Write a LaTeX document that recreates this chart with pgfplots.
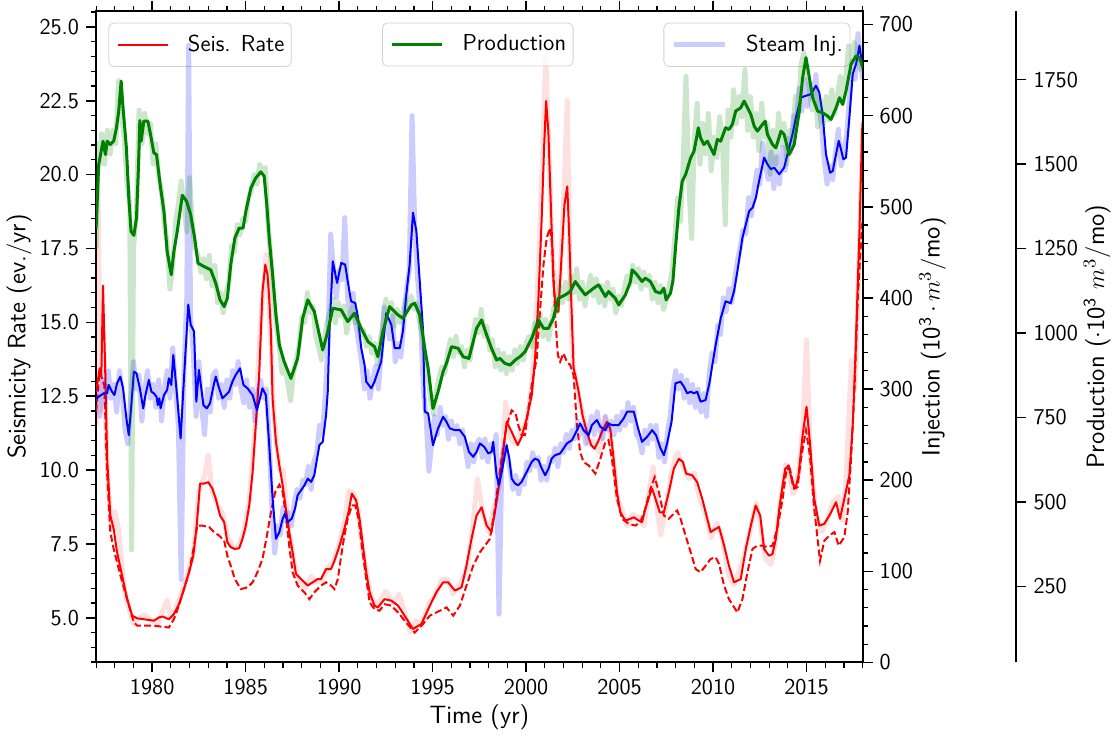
\documentclass[border=0pt]{standalone}
\usepackage{pgfplots}
\pgfplotsset{compat=1.18}
\renewcommand{\familydefault}{\sfdefault}
\definecolor{mplgreen}{RGB}{0,128,0}

\pgfplotsset{
  legend image code/.code={\path (0pt,0pt); \draw[#1] (2.5pt,0pt) -- (27.5pt,0pt);},
  base/.style={
    scale only axis, width=382.3pt, height=325pt,
    xmin=1977, xmax=2018,
    tick align=outside,
    major tick length=5pt, minor tick length=2.6pt,
    every major tick/.style={black, line width=0.8pt},
    every minor tick/.style={black, line width=0.6pt},
    axis line style={line width=1pt},
    ticklabel style={font=\fontsize{11.3}{13}\selectfont},
    /pgf/number format/assume math mode=true,
    label style={font=\fontsize{12.5}{14}\selectfont},
    legend style={draw=black!18, rounded corners=2.5pt, fill=white, fill opacity=0.8,
      text opacity=1, font=\fontsize{11.5}{13}\selectfont, inner xsep=1.5pt, inner ysep=4pt,
      /tikz/every odd column/.append style={column sep=7.5pt}},
    legend cell align=left,
  },
}

\begin{document}
\begin{tikzpicture}

% ---- seismicity rate (left axis)
\begin{axis}[base,
  ymin=3.487, ymax=25.543,
  ytick={5,7.5,10,12.5,15,17.5,20,22.5,25},
  minor ytick={3.5,4,...,25.5},
  ytick pos=left,
  xtick={1980,1985,...,2015},
  minor xtick={1977,1978,...,2018},
  xticklabel style={/pgf/number format/1000 sep={}},
  yticklabel style={/pgf/number format/.cd, fixed, fixed zerofill, precision=1},
  xlabel={Time (yr)},
  ylabel={Seismicity Rate (ev./yr)},
  xlabel style={at={(axis description cs:0.5,0)}, anchor=center, yshift=-27.5pt},
  ylabel style={at={(axis description cs:-0.1003,0.5)}, anchor=center},
  legend style={at={(0.016,0.982)}, anchor=north west},
]
\addplot[red, opacity=0.12, line width=2.5pt, line join=round, forget plot] coordinates {
(1977.0,11.5)(1977.1,19.5)(1977.25,12.0)(1977.4,14.5)(1977.6,10.0)(1977.8,8.0)(1978.0,8.6)(1978.2,8.0)
(1978.5,6.0)(1978.8,5.2)(1979.0,4.8)(1979.3,5.0)(1979.6,5.1)(1980.0,4.9)(1980.3,4.8)(1980.6,5.3)
(1980.8,5.6)(1981.0,5.0)(1981.3,5.4)(1981.6,5.9)(1981.9,6.5)(1982.2,7.2)(1982.5,9.3)(1982.8,9.8)
(1983.0,10.5)(1983.2,9.3)(1983.5,8.8)(1983.8,8.5)(1984.0,7.8)(1984.3,7.4)(1984.6,7.4)(1984.9,7.9)
(1985.2,9.0)(1985.5,11.5)(1985.8,15.0)(1986.1,17.3)(1986.3,15.0)(1986.5,12.0)(1986.8,10.0)(1987.0,10.0)
(1987.3,8.0)(1987.6,6.8)(1987.9,6.2)(1988.2,6.0)(1988.5,6.4)(1988.8,6.2)(1989.1,6.3)(1989.4,6.7)
(1989.7,6.9)(1990.0,7.5)(1990.3,8.3)(1990.5,9.3)(1990.8,9.2)(1991.0,8.7)(1991.3,7.2)(1991.6,6.0)
(1991.9,5.4)(1992.2,5.6)(1992.5,5.9)(1992.9,5.5)(1993.2,5.8)(1993.5,5.2)(1993.8,4.5)(1994.1,4.9)
(1994.4,4.7)(1994.8,5.5)(1995.1,5.7)(1995.5,6.3)(1995.8,6.3)(1996.1,5.8)(1996.5,6.2)(1996.8,6.6)
(1997.1,7.8)(1997.4,9.7)(1997.7,8.5)(1998.0,7.9)(1998.3,8.8)(1998.6,9.5)(1998.9,12.3)(1999.1,11.1)
(1999.4,10.9)(1999.7,11.3)(2000.0,11.6)(2000.3,12.8)(2000.6,16.0)(2000.9,21.0)(2001.05,24.0)(2001.2,21.2)
(2001.4,17.5)(2001.6,15.4)(2001.8,16.5)(2002.0,19.0)(2002.2,22.5)(2002.35,16.5)(2002.5,13.6)(2002.8,12.5)
(2003.0,12.0)(2003.3,10.9)(2003.6,11.0)(2003.9,10.6)(2004.2,11.8)(2004.5,11.2)(2004.7,10.2)(2004.9,9.0)
(2005.1,8.7)(2005.4,8.1)(2005.7,8.5)(2006.0,8.4)(2006.3,8.1)(2006.6,9.4)(2006.8,10.1)(2007.0,8.7)
(2007.2,7.8)(2007.5,8.8)(2007.8,10.0)(2008.1,10.6)(2008.4,10.1)(2008.7,9.7)(2009.0,9.9)(2009.3,9.0)
(2009.6,8.5)(2009.9,7.7)(2010.2,8.2)(2010.5,7.7)(2010.8,6.5)(2011.1,6.1)(2011.4,6.6)(2011.7,7.2)
(2012.0,8.0)(2012.3,8.9)(2012.5,8.3)(2012.8,7.0)(2013.1,6.8)(2013.3,7.4)(2013.6,8.9)(2013.9,10.2)
(2014.1,9.8)(2014.3,9.2)(2014.6,10.0)(2014.8,11.5)(2015.0,14.4)(2015.2,10.5)(2015.5,8.5)(2015.8,7.9)
(2016.1,8.3)(2016.4,8.9)(2016.7,9.1)(2016.9,8.3)(2017.1,9.5)(2017.4,13.7)(2017.6,12.8)(2017.8,17.0)
(2018.0,21.5)
};
\addplot[red, line width=1pt, line join=round] coordinates {
(1977.0,12.65)(1977.19,13.44)(1977.28,13.21)(1977.37,16.24)(1977.48,13.55)(1977.59,10.39)(1977.76,8.46)
(1977.94,8.01)(1978.12,7.22)(1978.39,6.43)(1978.66,5.63)(1978.93,5.07)(1979.20,4.98)(1979.55,4.95)
(1980.09,4.90)(1980.36,5.01)(1980.57,5.04)(1980.89,4.95)(1981.16,5.12)(1981.43,5.46)(1981.70,5.97)
(1981.97,6.54)(1982.20,7.10)(1982.38,8.12)(1982.56,9.54)(1982.77,9.54)(1983.00,9.59)(1983.22,9.37)
(1983.40,9.03)(1983.63,8.46)(1983.85,8.24)(1984.02,7.56)(1984.20,7.39)(1984.42,7.33)(1984.65,7.35)
(1984.83,7.67)(1985.01,8.12)(1985.19,8.80)(1985.37,9.93)(1985.54,11.52)(1985.72,13.21)(1985.90,16.04)
(1986.05,16.95)(1986.17,16.61)(1986.26,15.81)(1986.35,14.68)(1986.44,12.42)(1986.62,10.95)(1986.80,10.16)
(1986.98,9.48)(1987.15,8.69)(1987.33,7.90)(1987.51,7.22)(1987.69,6.48)(1987.96,6.31)(1988.32,6.09)
(1988.59,6.20)(1988.85,6.31)(1989.03,6.31)(1989.30,6.65)(1989.57,6.65)(1989.75,6.93)(1990.02,7.44)
(1990.28,8.01)(1990.50,8.57)(1990.68,9.20)(1990.91,8.97)(1991.09,8.35)(1991.27,7.44)(1991.45,6.54)
(1991.63,5.86)(1991.89,5.41)(1992.07,5.35)(1992.43,5.63)(1992.79,5.58)(1993.15,5.41)(1993.50,5.07)
(1993.95,4.62)(1994.40,4.79)(1994.85,5.41)(1995.20,5.86)(1995.56,6.20)(1995.83,6.20)(1996.19,5.92)
(1996.55,6.03)(1996.81,6.76)(1997.08,7.67)(1997.35,8.46)(1997.62,8.74)(1997.89,8.12)(1998.15,7.90)
(1998.33,8.57)(1998.60,9.71)(1998.96,11.63)(1999.23,11.29)(1999.55,10.84)(1999.76,11.12)(2000.03,11.74)
(2000.30,12.53)(2000.48,13.78)(2000.66,15.81)(2000.84,18.64)(2000.96,20.90)(2001.07,22.49)(2001.19,21.47)
(2001.34,18.64)(2001.46,16.38)(2001.61,15.36)(2001.73,15.36)(2001.87,16.95)(2002.05,18.98)(2002.20,19.60)
(2002.30,18.08)(2002.41,15.81)(2002.54,13.44)(2002.63,13.21)(2002.81,12.65)(2003.02,11.85)(2003.25,11.29)
(2003.48,10.84)(2003.66,10.72)(2003.88,11.01)(2004.09,11.35)(2004.33,11.63)(2004.50,11.40)(2004.68,10.38)
(2004.86,9.25)(2005.04,8.57)(2005.31,8.29)(2005.58,8.35)(2005.76,8.40)(2006.02,8.29)(2006.20,8.24)
(2006.38,8.69)(2006.60,9.14)(2006.74,9.37)(2006.92,9.03)(2007.15,8.57)(2007.37,8.57)(2007.63,9.25)
(2007.90,10.04)(2008.17,10.38)(2008.39,10.27)(2008.56,9.88)(2008.89,9.82)(2009.15,9.59)(2009.42,9.03)
(2009.69,8.35)(2009.87,7.90)(2010.14,8.01)(2010.32,8.07)(2010.59,7.44)(2010.85,6.76)(2011.12,6.20)
(2011.48,6.31)(2011.75,7.33)(2012.02,8.12)(2012.28,8.80)(2012.52,8.46)(2012.73,7.33)(2012.99,7.10)
(2013.18,7.16)(2013.36,7.67)(2013.54,8.69)(2013.72,9.48)(2013.86,10.04)(2014.04,10.16)(2014.25,9.54)
(2014.43,9.42)(2014.57,9.82)(2014.79,11.18)(2015.00,12.14)(2015.18,10.95)(2015.41,9.03)(2015.68,8.12)
(2015.95,8.18)(2016.22,8.46)(2016.58,8.91)(2016.79,8.35)(2017.02,9.03)(2017.29,9.82)(2017.47,11.52)
(2017.61,13.78)(2017.83,18.08)(2017.97,21.47)(2018.0,21.8)
};
\addlegendentry{Seis. Rate}
\addplot[red, line width=1pt, dash pattern=on 3.5pt off 1.6pt, forget plot] coordinates {
(1977.0,11.97)(1977.19,13.33)(1977.32,13.10)(1977.44,12.87)(1977.58,10.0)(1977.76,7.90)(1977.94,7.33)
(1978.30,6.43)(1978.66,5.63)(1979.02,4.84)(1979.20,4.73)(1980.09,4.73)(1980.89,4.67)(1981.16,4.95)
(1981.43,5.41)(1981.70,5.97)(1981.97,6.54)(1982.24,7.44)(1982.41,8.12)(1982.68,8.12)(1983.04,8.07)
(1983.31,7.90)(1983.58,7.78)(1983.85,7.61)(1984.02,7.10)(1984.20,6.76)(1984.42,6.31)(1984.74,5.97)
(1985.10,6.03)(1985.37,6.20)(1985.63,6.54)(1985.90,6.99)(1986.17,7.90)(1986.35,8.57)(1986.58,9.25)
(1986.80,9.50)(1986.98,9.25)(1987.15,8.46)(1987.33,7.44)(1987.51,6.54)(1987.78,6.09)(1988.14,5.86)
(1988.41,5.63)(1988.67,5.86)(1989.03,6.09)(1989.30,6.20)(1989.57,6.09)(1989.75,5.97)(1989.93,6.31)
(1990.11,7.10)(1990.28,7.78)(1990.46,8.35)(1990.68,8.80)(1990.86,8.80)(1991.04,8.35)(1991.21,7.44)
(1991.45,6.31)(1991.63,5.52)(1991.89,5.29)(1992.16,5.24)(1992.43,5.46)(1992.79,5.41)(1993.15,5.18)
(1993.50,4.90)(1994.04,4.50)(1994.40,4.73)(1994.85,5.07)(1995.20,5.18)(1995.74,5.35)(1996.10,5.07)
(1996.46,5.41)(1996.81,6.09)(1997.17,6.76)(1997.53,7.22)(1997.80,7.44)(1998.06,7.67)(1998.33,8.69)
(1998.69,10.38)(1998.96,11.52)(1999.23,12.02)(1999.44,11.91)(1999.58,11.52)(1999.76,11.18)(1999.94,11.18)
(2000.12,12.08)(2000.30,12.87)(2000.57,13.78)(2000.66,14.68)(2000.93,16.95)(2001.10,17.85)(2001.28,18.19)
(2001.41,17.51)(2001.55,15.25)(2001.70,13.89)(2001.82,13.67)(2002.00,13.95)(2002.18,13.67)(2002.36,13.55)
(2002.54,13.21)(2002.72,11.52)(2002.89,10.61)(2003.07,10.27)(2003.34,10.16)(2003.70,9.88)(2003.97,10.38)
(2004.24,10.95)(2004.41,11.01)(2004.59,10.38)(2004.86,9.03)(2005.13,8.35)(2005.49,8.18)(2005.85,8.12)
(2006.11,8.24)(2006.38,8.69)(2006.65,9.37)(2006.88,9.76)(2007.10,9.25)(2007.37,8.46)(2007.63,8.35)
(2007.90,8.52)(2008.08,8.63)(2008.26,8.35)(2008.53,7.78)(2008.80,7.22)(2009.07,6.65)(2009.33,6.54)
(2009.60,6.76)(2009.87,6.99)(2010.14,7.05)(2010.32,6.82)(2010.59,6.09)(2010.85,5.63)(2011.30,5.18)
(2011.57,5.63)(2011.84,6.54)(2012.11,7.33)(2012.37,7.44)(2012.64,7.44)(2012.91,7.39)(2013.18,7.44)
(2013.45,8.07)(2013.72,9.03)(2013.93,10.04)(2014.11,10.04)(2014.34,9.37)(2014.52,9.42)(2014.70,10.38)
(2014.97,11.35)(2015.18,10.50)(2015.41,8.69)(2015.72,6.93)(2015.95,7.61)(2016.22,7.78)(2016.49,7.90)
(2016.72,7.44)(2017.02,7.73)(2017.20,8.57)(2017.38,10.38)(2017.56,12.65)(2017.74,15.81)(2017.97,18.30)
(2018.0,18.4)
};
\end{axis}

% ---- steam injection (right axis)
\begin{axis}[base,
  ymin=0, ymax=715,
  axis y line*=right, axis x line=none,
  ytick={0,100,...,700},
  minor ytick={0,20,...,700},
  ylabel={Injection (10\textsuperscript{3}\,$\cdot$\,$m^3$/mo)},
  ylabel style={at={(axis description cs:1.0912,0.5)}, anchor=center},
  legend style={at={(0.984,0.982)}, anchor=north east},
]
\addplot[blue, opacity=0.2, line width=2.5pt, line join=round] coordinates {
(1977.0,280)(1977.1,300)(1977.2,270)(1977.35,310)(1977.5,285)(1977.65,320)(1977.8,290)(1977.95,305)
(1978.1,275)(1978.25,320)(1978.4,295)(1978.55,255)(1978.7,240)(1978.85,290)(1979.0,330)(1979.15,300)
(1979.3,315)(1979.45,265)(1979.6,300)(1979.75,320)(1979.9,290)(1980.05,305)(1980.2,280)(1980.35,310)
(1980.5,265)(1980.65,300)(1980.8,320)(1980.95,290)(1981.1,345)(1981.25,300)(1981.4,260)(1981.55,91)
(1981.7,320)(1981.85,400)(1981.95,677)(1982.05,380)(1982.2,340)(1982.35,270)(1982.5,330)(1982.65,280)
(1982.8,250)(1982.95,300)(1983.1,275)(1983.25,315)(1983.4,320)(1983.55,290)(1983.7,305)(1983.85,280)
(1984.0,310)(1984.15,290)(1984.3,320)(1984.45,305)(1984.6,330)(1984.75,300)(1984.9,285)(1985.05,310)
(1985.2,280)(1985.35,300)(1985.5,265)(1985.65,295)(1985.8,310)(1985.95,290)(1986.1,300)(1986.25,250)
(1986.4,170)(1986.55,120)(1986.7,150)(1986.85,140)(1987.0,170)(1987.15,155)(1987.3,165)(1987.45,150)
(1987.6,175)(1987.75,190)(1987.9,180)(1988.05,200)(1988.2,195)(1988.35,215)(1988.5,190)(1988.65,220)
(1988.8,230)(1988.95,260)(1989.1,250)(1989.25,290)(1989.4,350)(1989.55,470)(1989.7,430)(1989.85,400)
(1990.0,430)(1990.15,420)(1990.3,488)(1990.45,400)(1990.6,380)(1990.75,405)(1990.9,370)(1991.05,350)
(1991.2,330)(1991.35,300)(1991.5,320)(1991.65,290)(1991.8,310)(1991.95,325)(1992.1,300)(1992.25,340)
(1992.4,390)(1992.55,370)(1992.7,355)(1992.85,380)(1993.0,330)(1993.15,350)(1993.3,335)(1993.45,370)
(1993.6,410)(1993.75,430)(1993.9,600)(1994.05,470)(1994.2,420)(1994.35,380)(1994.5,300)(1994.65,270)
(1994.8,210)(1994.95,240)(1995.1,270)(1995.25,250)(1995.4,280)(1995.55,260)(1995.7,270)(1995.85,245)
(1996.0,265)(1996.15,250)(1996.3,260)(1996.45,240)(1996.6,255)(1996.75,235)(1996.9,215)(1997.05,240)
(1997.2,220)(1997.35,240)(1997.5,245)(1997.65,225)(1997.8,245)(1997.95,220)(1998.1,240)(1998.25,230)
(1998.4,250)(1998.55,53)(1998.7,220)(1998.85,240)(1999.0,225)(1999.15,210)(1999.3,190)(1999.45,205)
(1999.6,185)(1999.75,200)(1999.9,195)(2000.05,220)(2000.2,210)(2000.35,230)(2000.5,215)(2000.65,225)
(2000.8,200)(2000.95,215)(2001.1,200)(2001.25,225)(2001.4,220)(2001.55,235)(2001.7,215)(2001.85,240)
(2002.0,230)(2002.15,250)(2002.3,235)(2002.45,255)(2002.6,245)(2002.75,265)(2002.9,250)(2003.05,260)
(2003.2,240)(2003.35,255)(2003.5,270)(2003.65,250)(2003.8,275)(2003.95,255)(2004.1,245)(2004.25,270)
(2004.4,255)(2004.55,265)(2004.7,250)(2004.85,270)(2005.0,255)(2005.15,275)(2005.3,260)(2005.45,285)
(2005.6,265)(2005.75,280)(2005.9,250)(2006.05,245)(2006.2,230)(2006.35,255)(2006.5,240)(2006.65,260)
(2006.8,245)(2006.95,260)(2007.1,225)(2007.25,240)(2007.4,220)(2007.55,250)(2007.7,270)(2007.85,300)
(2008.0,320)(2008.15,300)(2008.3,315)(2008.45,290)(2008.6,310)(2008.75,285)(2008.9,305)(2009.05,280)
(2009.2,300)(2009.35,275)(2009.5,295)(2009.65,270)(2009.8,320)(2009.95,340)(2010.1,330)(2010.25,370)
(2010.4,360)(2010.55,400)(2010.7,385)(2010.85,410)(2011.0,395)(2011.15,420)(2011.3,440)(2011.45,455)
(2011.6,475)(2011.75,470)(2011.9,510)(2012.05,490)(2012.2,520)(2012.35,540)(2012.5,525)(2012.65,570)
(2012.8,545)(2012.95,530)(2013.1,560)(2013.25,520)(2013.4,555)(2013.55,525)(2013.7,565)(2013.85,540)
(2014.0,575)(2014.15,560)(2014.3,600)(2014.45,590)(2014.6,630)(2014.75,605)(2014.9,640)(2015.05,610)
(2015.2,635)(2015.35,620)(2015.5,645)(2015.65,610)(2015.8,590)(2015.95,550)(2016.1,525)(2016.25,545)
(2016.4,530)(2016.55,560)(2016.7,585)(2016.85,545)(2017.0,560)(2017.15,580)(2017.3,620)(2017.45,660)
(2017.6,640)(2017.75,690)(2017.9,660)(2018.0,640)
};
\addlegendentry{Steam Inj.}
\addplot[blue, line width=1pt, line join=round, forget plot] coordinates {
(1977.0,289.8)(1977.14,291.6)(1977.41,295.3)(1977.59,295.3)(1977.67,304.5)(1977.85,297.1)(1977.98,293.4)
(1978.12,306.3)(1978.30,313.6)(1978.44,300.8)(1978.62,267.8)(1978.75,249.4)(1978.87,278.8)(1979.02,319.1)
(1979.16,317.3)(1979.34,300.8)(1979.52,278.8)(1979.64,293.4)(1979.82,310.0)(1979.96,297.1)(1980.09,295.3)
(1980.23,291.6)(1980.30,282.4)(1980.38,289.8)(1980.45,278.8)(1980.63,293.4)(1980.80,299.0)(1980.89,311.8)
(1981.02,304.5)(1981.13,337.5)(1981.31,297.1)(1981.52,245.8)(1981.70,311.8)(1981.93,392.5)(1982.06,370.5)
(1982.24,363.2)(1982.36,286.1)(1982.50,321.0)(1982.74,282.4)(1982.92,278.8)(1983.09,284.3)(1983.31,306.3)
(1983.40,313.6)(1983.58,300.8)(1983.76,289.8)(1983.93,293.4)(1984.11,297.1)(1984.29,308.1)(1984.47,315.5)
(1984.70,322.8)(1984.88,304.5)(1985.10,300.8)(1985.37,293.4)(1985.60,277.0)(1985.72,286.1)(1985.90,300.8)
(1986.08,293.4)(1986.26,238.4)(1986.44,179.7)(1986.62,135.7)(1986.80,143.0)(1986.98,157.7)(1987.10,163.2)
(1987.24,154.0)(1987.46,157.7)(1987.64,168.7)(1987.78,183.4)(1987.96,188.9)(1988.14,194.4)(1988.32,201.7)
(1988.50,198.1)(1988.67,205.4)(1988.82,223.7)(1988.94,238.4)(1989.12,242.1)(1989.30,271.4)(1989.39,297.1)
(1989.48,363.2)(1989.66,440.2)(1989.89,416.4)(1990.11,438.4)(1990.32,436.5)(1990.46,418.2)(1990.64,396.2)
(1990.86,394.3)(1991.00,379.7)(1991.18,344.8)(1991.36,326.5)(1991.45,308.1)(1991.72,300.8)(1991.89,308.1)
(1992.07,319.1)(1992.25,330.1)(1992.52,383.3)(1992.79,370.5)(1992.97,344.8)(1993.24,344.8)(1993.41,363.2)
(1993.59,403.5)(1993.77,436.5)(1993.95,493.4)(1994.13,473.2)(1994.31,418.2)(1994.49,363.2)(1994.58,275.1)
(1994.76,273.3)(1995.02,238.4)(1995.29,256.8)(1995.56,269.6)(1995.74,264.1)(1995.92,256.8)(1996.19,254.9)
(1996.46,254.9)(1996.72,247.6)(1996.94,231.1)(1997.17,225.6)(1997.35,231.1)(1997.53,240.3)(1997.76,236.6)
(1997.98,229.3)(1998.15,231.1)(1998.24,242.1)(1998.42,205.4)(1998.55,194.4)(1998.73,212.7)(1998.96,238.4)
(1999.10,223.7)(1999.23,201.7)(1999.41,196.2)(1999.58,194.4)(1999.76,198.1)(1999.94,205.4)(2000.12,212.7)
(2000.30,220.1)(2000.48,223.7)(2000.66,221.9)(2000.84,212.7)(2001.02,205.4)(2001.20,212.7)(2001.37,223.7)
(2001.55,227.4)(2001.82,229.3)(2002.00,234.8)(2002.18,240.3)(2002.45,243.9)(2002.72,254.9)(2002.89,262.3)
(2003.07,254.9)(2003.34,249.4)(2003.52,260.4)(2003.79,265.9)(2003.97,258.6)(2004.24,254.9)(2004.41,262.3)
(2004.59,260.4)(2004.95,260.4)(2005.22,267.8)(2005.40,275.1)(2005.76,275.1)(2005.99,256.8)(2006.20,242.1)
(2006.47,247.6)(2006.74,254.9)(2006.95,249.4)(2007.19,234.8)(2007.37,227.4)(2007.54,240.3)(2007.78,264.1)
(2007.99,306.3)(2008.26,308.1)(2008.44,302.6)(2008.62,295.3)(2008.80,297.1)(2008.98,295.3)(2009.15,297.1)
(2009.33,286.1)(2009.60,287.9)(2009.82,308.1)(2009.96,326.5)(2010.14,348.5)(2010.41,377.8)(2010.67,396.2)
(2010.94,394.3)(2011.12,407.2)(2011.30,429.2)(2011.57,465.9)(2011.75,480.5)(2011.93,495.2)(2012.11,498.9)
(2012.29,509.9)(2012.46,528.2)(2012.73,553.9)(2012.91,546.6)(2013.09,541.1)(2013.27,542.9)(2013.54,535.6)
(2013.80,542.9)(2013.98,557.6)(2014.25,579.6)(2014.43,597.9)(2014.70,619.9)(2014.97,621.8)(2015.24,623.6)
(2015.50,632.8)(2015.68,625.4)(2015.86,601.6)(2016.04,557.6)(2016.26,537.4)(2016.40,539.2)(2016.54,553.9)
(2016.72,572.3)(2016.84,563.1)(2016.97,552.1)(2017.11,553.9)(2017.29,597.9)(2017.47,645.6)(2017.65,656.6)
(2017.83,676.8)(2017.97,656.6)
};
\end{axis}

% ---- production (data, plotted against the outer axis)
\begin{axis}[base,
  ymin=24.6, ymax=1953.9,
  hide axis,
  legend style={at={(0.373,0.982)}, anchor=north west},
]
\addplot[mplgreen, opacity=0.2, line width=2.5pt, line join=round, forget plot] coordinates {
(1977.0,1250)(1977.1,1560)(1977.2,1500)(1977.3,1590)(1977.45,1500)(1977.6,1600)(1977.75,1530)(1977.9,1600)
(1978.05,1560)(1978.2,1747)(1978.35,1650)(1978.5,1580)(1978.65,1450)(1978.8,1380)(1978.9,358)(1979.0,1250)
(1979.15,1350)(1979.3,1660)(1979.45,1560)(1979.6,1650)(1979.75,1590)(1979.9,1620)(1980.05,1500)(1980.2,1560)
(1980.35,1460)(1980.5,1420)(1980.65,1320)(1980.8,1270)(1980.95,1130)(1981.1,1200)(1981.25,1330)(1981.4,1380)
(1981.55,1450)(1981.7,1370)(1981.85,1300)(1982.0,1460)(1982.15,1320)(1982.3,1250)(1982.45,1230)(1982.6,1180)
(1982.75,1220)(1982.9,1160)(1983.05,1230)(1983.2,1140)(1983.35,1200)(1983.5,1090)(1983.65,1120)(1983.8,1060)
(1983.95,1120)(1984.1,1150)(1984.25,1260)(1984.4,1240)(1984.55,1320)(1984.7,1290)(1984.85,1340)(1985.0,1330)
(1985.15,1400)(1985.3,1420)(1985.45,1470)(1985.6,1440)(1985.75,1500)(1985.9,1480)(1986.05,1490)(1986.2,1320)
(1986.35,1220)(1986.5,1100)(1986.65,1020)(1986.8,960)(1986.95,880)(1987.1,900)(1987.25,850)(1987.4,800)
(1987.55,880)(1987.7,920)(1987.85,960)(1988.0,1050)(1988.15,1030)(1988.3,1120)(1988.45,1060)(1988.6,1080)
(1988.75,990)(1988.9,960)(1989.05,920)(1989.2,980)(1989.35,1030)(1989.5,1060)(1989.65,1100)(1989.8,1030)
(1989.95,1090)(1990.1,1050)(1990.25,1080)(1990.4,1000)(1990.55,1050)(1990.7,1080)(1990.85,1030)(1991.0,1040)
(1991.15,990)(1991.3,1010)(1991.45,960)(1991.6,990)(1991.75,940)(1991.9,970)(1992.05,910)(1992.2,980)
(1992.35,1030)(1992.5,1100)(1992.65,1060)(1992.8,1090)(1992.95,1020)(1993.1,1070)(1993.25,1030)(1993.4,1060)
(1993.55,1100)(1993.7,1080)(1993.85,1110)(1994.0,1070)(1994.15,1090)(1994.3,1030)(1994.45,990)(1994.6,920)
(1994.75,880)(1994.9,800)(1995.05,760)(1995.2,830)(1995.35,870)(1995.5,900)(1995.65,880)(1995.8,940)
(1995.95,980)(1996.1,930)(1996.25,990)(1996.4,940)(1996.55,960)(1996.7,900)(1996.85,950)(1997.0,920)
(1997.15,990)(1997.3,1040)(1997.45,1000)(1997.6,1070)(1997.75,990)(1997.9,1020)(1998.05,950)(1998.2,980)
(1998.35,900)(1998.5,950)(1998.65,890)(1998.8,940)(1998.95,880)(1999.1,930)(1999.25,890)(1999.4,950)
(1999.55,910)(1999.7,960)(1999.85,920)(2000.0,970)(2000.15,990)(2000.3,960)(2000.45,1030)(2000.6,1010)
(2000.75,1060)(2000.9,990)(2001.05,1040)(2001.2,980)(2001.35,1030)(2001.5,1080)(2001.65,1060)(2001.8,1140)
(2001.95,1090)(2002.1,1150)(2002.25,1100)(2002.4,1170)(2002.55,1120)(2002.7,1190)(2002.85,1100)(2003.0,1150)
(2003.15,1080)(2003.3,1130)(2003.45,1170)(2003.6,1110)(2003.75,1160)(2003.9,1090)(2004.05,1140)(2004.2,1080)
(2004.35,1150)(2004.5,1100)(2004.65,1130)(2004.8,1060)(2004.95,1110)(2005.1,1080)(2005.25,1130)(2005.4,1170)
(2005.55,1140)(2005.7,1200)(2005.85,1150)(2006.0,1190)(2006.15,1130)(2006.3,1180)(2006.45,1140)(2006.6,1170)
(2006.75,1100)(2006.9,1150)(2007.05,1090)(2007.2,1140)(2007.35,1070)(2007.5,1100)(2007.65,1140)(2007.8,1180)
(2007.95,1280)(2008.1,1400)(2008.25,1330)(2008.4,1500)(2008.55,1760)(2008.7,1450)(2008.85,1280)(2009.0,1570)
(2009.15,1680)(2009.3,1500)(2009.45,1620)(2009.6,1530)(2009.75,1650)(2009.9,1480)(2010.05,1580)(2010.2,1520)
(2010.35,1640)(2010.5,1570)(2010.65,1320)(2010.8,1660)(2010.95,1580)(2011.1,1720)(2011.25,1620)(2011.4,1700)
(2011.55,1640)(2011.7,1780)(2011.85,1600)(2012.0,1700)(2012.15,1580)(2012.3,1650)(2012.45,1540)(2012.6,1680)
(2012.75,1580)(2012.9,1620)(2013.05,1470)(2013.2,1600)(2013.35,1500)(2013.5,1650)(2013.65,1560)(2013.8,1620)
(2013.95,1500)(2014.1,1600)(2014.25,1560)(2014.4,1700)(2014.55,1640)(2014.7,1790)(2014.85,1830)(2015.0,1780)
(2015.15,1720)(2015.3,1660)(2015.45,1720)(2015.6,1610)(2015.75,1690)(2015.9,1620)(2016.05,1700)(2016.2,1630)
(2016.35,1720)(2016.5,1650)(2016.65,1700)(2016.8,1760)(2016.95,1680)(2017.1,1760)(2017.25,1850)(2017.4,1800)
(2017.55,1860)(2017.7,1820)(2017.85,1780)(2018.0,1800)
};
\addplot[mplgreen, line width=1.5pt, line join=round] coordinates {
(1977.0,1310.7)(1977.14,1498.7)(1977.37,1568.0)(1977.50,1528.4)(1977.59,1568.0)(1977.76,1558.1)(1977.94,1568.0)
(1978.09,1607.5)(1978.21,1657.0)(1978.34,1746.0)(1978.44,1666.9)(1978.62,1548.2)(1978.75,1399.8)(1978.87,1300.8)
(1979.02,1288.9)(1979.16,1340.4)(1979.27,1498.7)(1979.34,1629.3)(1979.41,1568.0)(1979.55,1627.3)(1979.77,1627.3)
(1979.91,1587.7)(1980.09,1533.3)(1980.23,1528.4)(1980.45,1429.4)(1980.63,1360.2)(1980.80,1241.4)(1981.02,1172.2)
(1981.16,1241.4)(1981.34,1300.8)(1981.61,1407.7)(1981.84,1389.9)(1982.06,1350.3)(1982.27,1281.0)(1982.45,1206.8)
(1982.77,1196.9)(1983.13,1187.0)(1983.40,1147.5)(1983.63,1097.9)(1983.85,1078.2)(1984.02,1102.9)(1984.20,1201.9)
(1984.42,1281.0)(1984.65,1310.7)(1984.86,1310.7)(1985.01,1360.2)(1985.28,1429.4)(1985.54,1459.1)(1985.81,1476.9)
(1985.99,1464.1)(1986.13,1380.0)(1986.26,1281.0)(1986.44,1172.2)(1986.62,1053.4)(1986.80,964.4)(1987.06,914.9)
(1987.42,865.4)(1987.78,924.8)(1988.05,1043.6)(1988.32,1098.0)(1988.67,1063.4)(1989.12,949.6)(1989.39,1004.0)
(1989.66,1073.2)(1990.11,1068.3)(1990.46,1033.7)(1990.82,1058.4)(1991.18,1013.9)(1991.54,974.3)(1991.89,959.5)
(1992.07,929.8)(1992.34,1004.0)(1992.70,1078.2)(1993.15,1053.4)(1993.41,1043.6)(1993.86,1083.1)(1994.04,1088.1)
(1994.31,1053.4)(1994.58,954.5)(1994.76,895.2)(1995.02,776.4)(1995.29,825.9)(1995.56,885.2)(1995.74,910.0)
(1996.01,959.5)(1996.37,954.5)(1996.63,929.8)(1996.94,924.8)(1997.17,974.3)(1997.35,1013.9)(1997.62,1038.6)
(1997.89,994.1)(1998.15,954.5)(1998.42,919.9)(1998.60,924.8)(1998.87,910.0)(1999.14,905.0)(1999.41,919.9)
(1999.67,929.8)(1999.94,944.6)(2000.30,984.2)(2000.66,1038.6)(2000.93,1013.9)(2001.20,1013.9)(2001.46,1043.6)
(2001.73,1102.9)(2002.09,1112.8)(2002.36,1122.7)(2002.63,1152.4)(2002.89,1132.6)(2003.16,1112.8)(2003.61,1132.6)
(2003.88,1142.5)(2004.24,1107.9)(2004.41,1122.7)(2004.77,1102.9)(2004.95,1083.1)(2005.31,1112.8)(2005.58,1152.4)
(2005.67,1187.0)(2005.93,1172.2)(2006.20,1152.4)(2006.38,1162.3)(2006.65,1152.4)(2006.92,1122.7)(2007.19,1117.8)
(2007.37,1132.6)(2007.49,1097.9)(2007.72,1117.8)(2007.85,1152.4)(2007.99,1251.3)(2008.17,1370.1)(2008.35,1449.2)
(2008.53,1469.0)(2008.80,1518.5)(2008.98,1538.3)(2009.15,1587.7)(2009.21,1607.5)(2009.33,1577.8)(2009.51,1558.1)
(2009.69,1568.0)(2009.96,1538.3)(2010.05,1528.4)(2010.23,1572.9)(2010.41,1568.0)(2010.67,1607.5)(2010.85,1602.6)
(2011.03,1617.4)(2011.21,1657.0)(2011.48,1666.9)(2011.66,1686.7)(2011.84,1666.9)(2012.02,1647.1)(2012.20,1612.5)
(2012.37,1597.6)(2012.64,1617.4)(2012.79,1627.3)(2012.91,1587.7)(2013.18,1558.1)(2013.36,1548.2)(2013.63,1597.6)
(2013.80,1587.7)(2014.07,1528.4)(2014.34,1558.1)(2014.61,1657.0)(2014.79,1755.9)(2014.97,1815.3)(2015.15,1755.9)
(2015.33,1696.6)(2015.59,1657.0)(2015.86,1652.1)(2016.13,1642.2)(2016.31,1632.3)(2016.58,1666.9)(2016.76,1696.6)
(2016.93,1676.8)(2017.11,1716.4)(2017.38,1795.5)(2017.65,1820.3)(2017.83,1815.3)(2018.01,1785.6)
};
\addlegendentry{Production}
\end{axis}

% ---- production scale (offset spine)
\begin{axis}[
  scale only axis, width=1pt, height=325pt, at={(458pt,0pt)}, anchor=south west,
  xmin=0, xmax=1, ymin=24.6, ymax=1953.9,
  axis y line*=right, axis x line=none,
  axis line style={line width=1pt},
  tick align=outside, major tick length=5pt,
  every major tick/.style={black, line width=0.8pt},
  ytick={250,500,...,1750},
  ticklabel style={font=\fontsize{11.3}{13}\selectfont},
  /pgf/number format/assume math mode=true,
  yticklabel style={/pgf/number format/1000 sep={}},
  label style={font=\fontsize{12.5}{14}\selectfont},
  ylabel={Production ($\cdot$10\textsuperscript{3} $m^3$/mo)},
  ylabel style={at={(axis description cs:41.15,0.5)}, anchor=center},
]
\addplot[draw=none, forget plot] coordinates {(0.5,1000)};
\end{axis}

\end{tikzpicture}
\end{document}
